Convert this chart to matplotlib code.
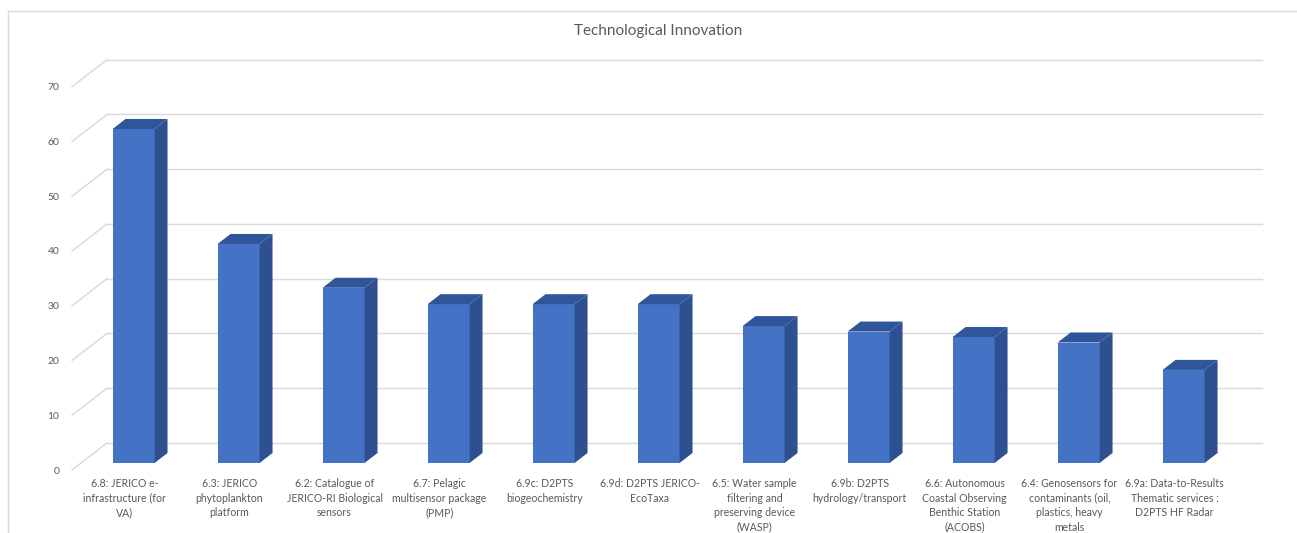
import matplotlib
matplotlib.use("Agg")
import matplotlib.pyplot as plt
from matplotlib.patches import Polygon
from matplotlib.lines import Line2D

categories = [
    "6.8: JERICO e-\ninfrastructure (for\nVA)",
    "6.3: JERICO\nphytoplankton\nplatform",
    "6.2: Catalogue of\nJERICO-RI Biological\nsensors",
    "6.7: Pelagic\nmultisensor package\n(PMP)",
    "6.9c: D2PTS\nbiogeochemistry",
    "6.9d: D2PTS JERICO-\nEcoTaxa",
    "6.5: Water sample\nfiltering and\npreserving device\n(WASP)",
    "6.9b: D2PTS\nhydrology/transport",
    "6.6: Autonomous\nCoastal Observing\nBenthic Station\n(ACOBS)",
    "6.4: Genosensors for\ncontaminants (oil,\nplastics, heavy\nmetals",
    "6.9a: Data-to-Results\nThematic services :\nD2PTS HF Radar",
]
values = [61, 40, 32, 29, 29, 29, 25, 24, 23, 22, 17]
yticks = [0, 10, 20, 30, 40, 50, 60, 70]
title = "Technological Innovation"

W, H = 1297, 533
fig = plt.figure(figsize=(W / 100, H / 100), dpi=100)
fig.patch.set_facecolor("white")

# outer chart border (top and left)
fig.add_artist(Line2D([8 / W, 8 / W], [0, 1 - 11 / H], color="#d9d9d9", lw=1))
fig.add_artist(Line2D([8 / W, 1], [1 - 11 / H, 1 - 11 / H], color="#d9d9d9", lw=1))

# 3D depth offsets (in data units)
DX = 0.333   # depth in category units
DY = 4.94    # depth in value units
n = len(values)

ax = fig.add_axes([72 / W, (H - 470) / H, 1190 / W, 410.3 / H])
ax.set_xlim(-0.5, n - 0.5 + DX)
ax.set_ylim(0, 70 + DY)
for s in ax.spines.values():
    s.set_visible(False)

grid_c = "#d9d9d9"
for v in yticks:
    ax.plot([-0.5, -0.5 + DX], [v, v + DY], color=grid_c, lw=1, zorder=1, clip_on=False)
    ax.plot([-0.5 + DX, n - 0.5 + DX], [v + DY, v + DY], color=grid_c, lw=1, zorder=1, clip_on=False)

# bars
f0, f1 = 0.26, 0.63  # depth fractions for front/back of bar
w = 0.40
front_c = "#4472C4"
side_c = "#2F5090"
top_c = "#2F559A"
for i, v in enumerate(values):
    xl = i + f0 * DX - w / 2
    xr = xl + w
    yb = f0 * DY
    yt = v + f0 * DY
    ddx = (f1 - f0) * DX
    ddy = (f1 - f0) * DY
    front = Polygon([(xl, yb), (xr, yb), (xr, yt), (xl, yt)], closed=True,
                    facecolor=front_c, edgecolor="none", zorder=3)
    side = Polygon([(xr, yb), (xr + ddx, yb + ddy), (xr + ddx, yt + ddy), (xr, yt)],
                   closed=True, facecolor=side_c, edgecolor="none", zorder=3)
    top = Polygon([(xl, yt), (xr, yt), (xr + ddx, yt + ddy), (xl + ddx, yt + ddy)],
                  closed=True, facecolor=top_c, edgecolor="none", zorder=3)
    for p in (front, side, top):
        ax.add_patch(p)

txt_c = "#595959"
font = "Lato"
ax.set_yticks(yticks)
ax.set_yticklabels([str(t) for t in yticks], fontsize=7.5, color=txt_c, family=font)
ax.tick_params(axis="y", length=0, pad=9)
ax.set_xticks(range(n))
ax.set_xticklabels(categories, fontsize=7.6, color=txt_c, family=font, linespacing=1.38)
ax.tick_params(axis="x", length=0, pad=6)
for lab in ax.get_xticklabels():
    lab.set_ha("center")
    lab.set_va("top")
    lab.set_multialignment("center")

fig.text(658 / W, 1 - 31 / H, title, ha="center", va="center", fontsize=11,
         color=txt_c, family=font)

fig.savefig("out.png", dpi=100, facecolor="white")
